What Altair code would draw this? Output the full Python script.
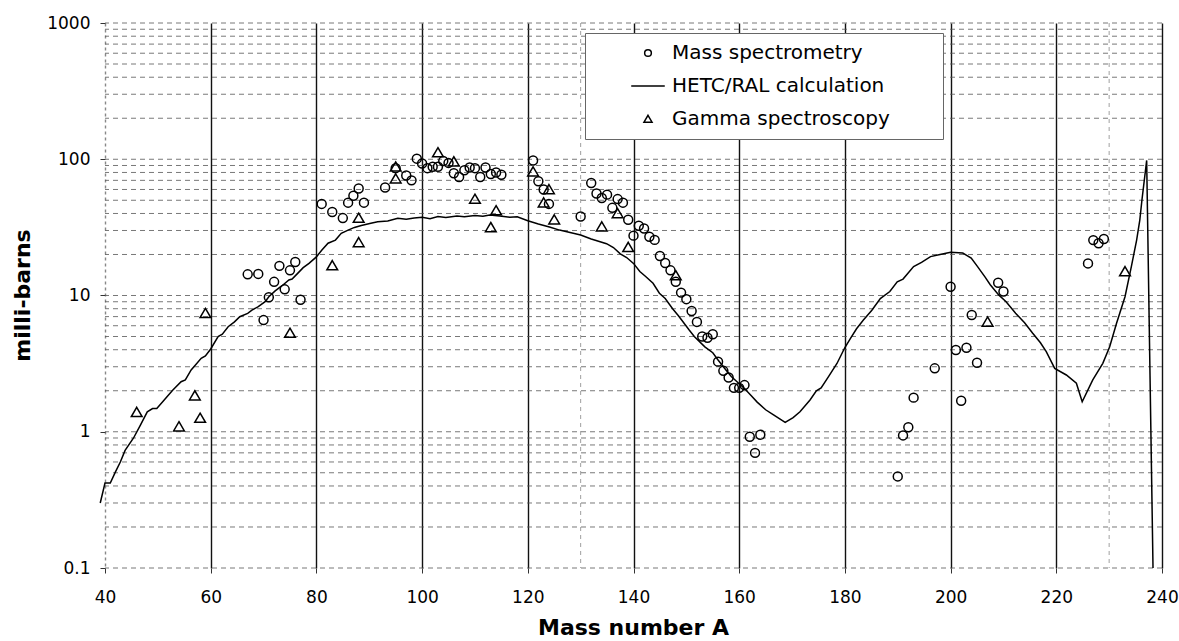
import altair as alt
import pandas as pd

SERIES = ["Mass spectrometry", "HETC/RAL calculation", "Gamma spectroscopy"]

# Mass spectrometry (circles)
ms_A = [67, 69, 70, 71, 72, 73, 74, 75, 76, 77,
        81, 83, 85, 86, 87, 88, 89, 93, 95, 97, 98, 99, 100, 101, 102, 103, 104, 105,
        106, 107, 108, 109, 110, 111, 112, 113, 114, 115,
        121, 122, 123, 124, 130, 132, 133, 134, 135, 136, 137, 138, 139,
        140, 141, 142, 143, 144, 145, 146, 147, 148, 149, 150, 151, 152, 153, 154, 155,
        156, 157, 158, 159, 160, 161, 162, 163, 164,
        190, 191, 192, 193, 197, 200, 201, 202, 203, 204, 205, 209, 210,
        226, 227, 228, 229]
ms_v = [14.3, 14.4, 6.6, 9.7, 12.6, 16.5, 11.1, 15.3, 17.6, 9.3,
        47, 41, 37, 48, 54, 61, 48, 62, 86, 76, 70, 101, 93, 86, 88, 88, 97, 94,
        79, 74, 83, 87, 86, 74, 87, 78, 80, 77,
        98, 69, 60, 47, 38, 67, 56, 52, 55, 44, 51, 48, 36,
        27.5, 32.5, 31, 27, 25.6, 19.5, 17.3, 15.3, 12.6, 10.5, 9.4, 7.7, 6.4, 5.0, 4.9, 5.2,
        3.27, 2.8, 2.5, 2.1, 2.1, 2.2, 0.92, 0.70, 0.95,
        0.47, 0.94, 1.08, 1.78, 2.92, 11.6, 3.98, 1.69, 4.14, 7.2, 3.21, 12.4, 10.7,
        17.2, 25.5, 24.2, 26.0]

# Gamma spectroscopy (triangles)
gs_A = [46, 54, 57, 58, 59, 75, 83, 88, 88, 95, 95, 103, 106, 110, 113, 114,
        121, 123, 124, 125, 134, 137, 139, 148, 207, 233]
gs_v = [1.39, 1.09, 1.84, 1.26, 7.4, 5.3, 16.6, 37, 24.5, 88, 72, 112, 96, 51, 31.6, 42,
        81, 48, 60, 36, 32, 40, 22.6, 14, 6.4, 15]

# HETC/RAL calculation (line)
calc_A = [39.1, 40.0, 41.0, 42.0, 42.9, 43.8, 45.4, 46.7, 48.0, 49.0, 49.8, 51.2, 52.8,
          54.4, 55.2, 56.3, 58.2, 59.0, 60.0, 61.4, 62.2, 63.3, 64.5, 65.5, 67.0, 67.8,
          69.0, 70.3, 71.0, 72.2, 73.5, 74.8, 75.4, 76.5, 77.5, 78.6, 80.0, 81.0, 82.2,
          83.6, 84.7, 86.0, 87.2, 88.5, 90.3, 91.6, 93.5, 95.4, 97.0, 98.5, 100.0, 101.5,
          103.0, 104.5, 106.6, 108.0, 110.0, 111.5, 112.8, 114.7, 116.6, 118.0, 120.0,
          122.0, 124.1, 126.0, 128.0, 130.0, 132.0, 134.9, 136.2, 137.5, 138.7, 140.0,
          141.2, 142.3, 143.7, 144.9, 146.0, 147.4, 148.5, 150.5, 151.5, 153.5, 155.0,
          156.0, 157.3, 158.5, 160.0, 161.0, 162.2, 163.4, 165.0, 166.5, 168.7, 170.2,
          171.5, 173.4, 174.6, 175.5, 176.9, 178.5, 180.0, 181.0, 182.2, 183.5, 185.1,
          186.7, 188.5, 189.9, 191.0, 193.0, 194.5, 196.2, 198.0, 200.0, 202.3, 203.9,
          205.0, 206.5, 207.5, 209.1, 210.5, 212.3, 214.0, 215.5, 217.0, 218.1, 219.7,
          221.9, 223.8, 224.9, 226.9, 228.8, 230.1, 231.4, 233.0, 234.2, 235.2, 235.8,
          236.2, 237.1, 238.3]
calc_v = [0.30, 0.42, 0.42, 0.51, 0.60, 0.73, 0.90, 1.12, 1.40, 1.48, 1.48, 1.71, 2.02,
          2.33, 2.40, 2.84, 3.46, 3.60, 4.05, 4.99, 5.2, 5.9, 6.4, 6.99, 7.4, 7.8,
          8.3, 9.0, 9.8, 10.8, 11.8, 13.0, 13.2, 14.6, 16.0, 17.2, 19.2, 21.5, 24.2,
          25.5, 28.6, 30.2, 31.6, 32.6, 33.9, 34.8, 35.2, 36.9, 36.3, 37.0, 37.5, 36.6,
          38.0, 37.4, 38.3, 37.8, 38.7, 38.2, 39.0, 38.3, 37.5, 37.8, 35.4,
          33.5, 31.8, 30.2, 29.0, 27.8, 26.0, 24.0, 22.5, 20.2, 19.0, 17.2,
          15.0, 13.8, 12.3, 10.4, 9.5, 8.0, 7.1, 5.6, 5.0, 4.2, 3.8,
          3.36, 2.9, 2.54, 2.25, 2.08, 1.85, 1.65, 1.45, 1.33, 1.17, 1.27,
          1.40, 1.71, 2.0, 2.1, 2.54, 3.17, 4.15, 4.8, 5.7, 6.6, 7.8,
          9.5, 10.7, 12.6, 13.2, 16.3, 17.5, 19.3, 20.0, 20.8, 20.5, 18.8,
          16.5, 13.7, 12.0, 10.1, 9.0, 7.4, 6.3, 5.3, 4.5, 3.87, 2.92,
          2.61, 2.27, 1.66, 2.4, 3.18, 4.2, 6.25, 9.8, 16.3, 25.5, 35.8,
          50, 98, 0.1]

x_ticks = [40, 60, 80, 100, 120, 140, 160, 180, 200, 220, 240]
y_ticks = [0.1, 1, 10, 100, 1000]
y_grid = [0.1, 0.2, 0.3, 0.4, 0.5, 0.6, 0.7, 0.8, 0.9,
          1, 2, 3, 4, 5, 6, 7, 8, 9,
          10, 20, 30, 40, 50, 60, 70, 80, 90,
          100, 200, 300, 400, 500, 600, 700, 800, 900, 1000]
x_minor_grid = [130, 230]

pts = pd.DataFrame({
    "A": ms_A + gs_A,
    "v": ms_v + gs_v,
    "series": [SERIES[0]] * len(ms_A) + [SERIES[2]] * len(gs_A),
})
calc = pd.DataFrame({"A": calc_A, "v": calc_v})
hgrid = pd.DataFrame({"v": y_grid})
vgrid = pd.DataFrame({"A": x_minor_grid})

FONT = "DejaVu Sans"
xscale = alt.Scale(domain=[40, 240], nice=False, zero=False)
yscale = alt.Scale(type="log", domain=[0.1, 1000], nice=False)

xaxis = alt.Axis(values=x_ticks, grid=True,
                 gridColor={"condition": {"test": "datum.value === 40", "value": "#888888"}, "value": "#111111"},
                 gridDash={"condition": {"test": "datum.value === 40", "value": [3, 3]}, "value": []},
                 gridWidth=1.4, domain=False, tickSize=5, tickColor="#333333",
                 labelFont=FONT, labelFontSize=17, labelColor="black", labelPadding=16,
                 labelFlush=False,
                 titleFont=FONT, titleFontSize=22, titleFontWeight="bold", titleColor="black",
                 titleX=528, titleY=66, titleBaseline="alphabetic", titleAlign="center")
yaxis = alt.Axis(values=y_ticks, grid=False, domain=False, tickSize=5, tickColor="#333333",
                 labelExpr="datum.value < 1 ? '0.1' : format(datum.value, 'd')",
                 labelFont=FONT, labelFontSize=17, labelColor="black", labelPadding=10,
                 labelFlush=False,
                 titleFont=FONT, titleFontSize=22, titleFontWeight="bold", titleColor="black",
                 titleX=-83, titleY=272, titleAngle=270, titleBaseline="middle",
                 titleAlign="center")

XT = "Mass number A"
YT = "milli-barns"

h = alt.Chart(hgrid).mark_rule(color="#555555", strokeDash=[5, 4], strokeWidth=0.8).encode(
    y=alt.Y("v:Q", scale=yscale, title=YT, axis=yaxis)
)
vmin = alt.Chart(vgrid).mark_rule(color="#888888", strokeDash=[4, 4], strokeWidth=0.8).encode(
    x=alt.X("A:Q", scale=xscale, title=XT, axis=xaxis)
)
line = alt.Chart(calc).mark_line(color="black", strokeWidth=1.5).encode(
    x=alt.X("A:Q", scale=xscale, title=XT, axis=xaxis),
    y=alt.Y("v:Q", scale=yscale, title=YT, axis=yaxis),
)
points = alt.Chart(pts).mark_point(filled=False, size=80, strokeWidth=1.5, color="black", opacity=1).encode(
    x=alt.X("A:Q", scale=xscale, title=XT, axis=xaxis),
    y=alt.Y("v:Q", scale=yscale, title=YT, axis=yaxis),
    shape=alt.Shape("series:N",
                    scale=alt.Scale(domain=SERIES,
                                    range=["circle", "M-5,0L5,0", "M0,-1.1L1.2,0.95L-1.2,0.95Z"]),
                    legend=alt.Legend(orient="none", legendX=480, legendY=10, direction="vertical",
                                      title="\u2800", titleOrient="right", titleFontSize=2,
                                      titlePadding=42, titleColor="white",
                                      padding=10, strokeColor="#666666", fillColor="white",
                                      labelFont=FONT, labelFontSize=20, labelColor="black",
                                      labelLimit=500,
                                      labelOffset=14, symbolOffset=43, rowPadding=13,
                                      symbolSize=45, symbolStrokeWidth=1.5,
                                      symbolStrokeColor="black", symbolFillColor="transparent")),
)

chart = alt.layer(h, vmin, line, points).properties(
    width=1057, height=545,
    padding={"left": 105, "top": 23, "right": 17, "bottom": 73},
    autosize=alt.AutoSizeParams(type="none"),
    background="white",
).configure_view(stroke=None)

chart.save("out.html", embed_options={"renderer": "svg", "actions": False})
